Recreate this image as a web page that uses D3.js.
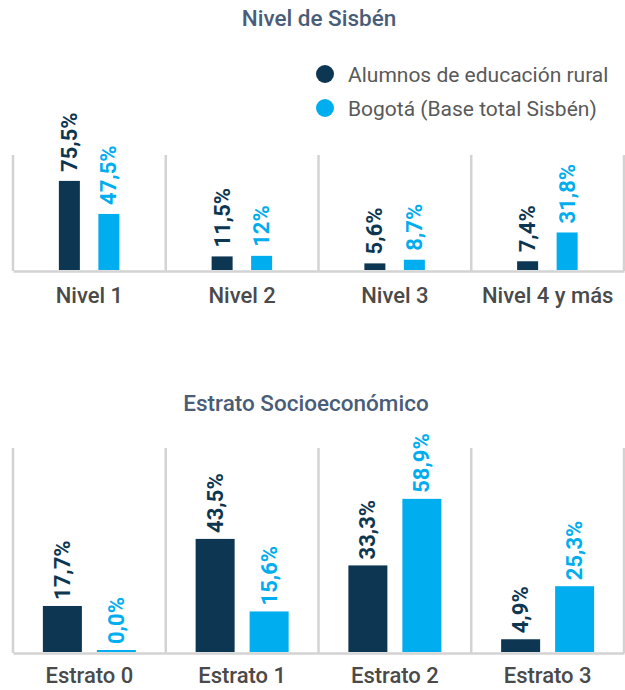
<!DOCTYPE html>
<html>
<head>
<meta charset="utf-8">
<script src="https://cdn.jsdelivr.net/npm/d3@7"></script>
<style>
  body { margin: 0; background: #fff; }
  svg text { font-family: Roboto, "Open Sans", sans-serif; }
</style>
</head>
<body>
<div id="chart"></div>
<script>
// Data
const series = ['Alumnos de educación rural', 'Bogotá (Base total Sisbén)']
const colors = ['#0d3652', '#00adee']

const sisbenCats = ['Nivel 1', 'Nivel 2', 'Nivel 3', 'Nivel 4 y más']
const sisbenRural = [75.5, 11.5, 5.6, 7.4]
const sisbenBogota = [47.5, 12, 8.7, 31.8]
const sisbenLabelsRural = ['75,5%', '11,5%', '5,6%', '7,4%']
const sisbenLabelsBogota = ['47,5%', '12%', '8,7%', '31,8%']

const estratoCats = ['Estrato 0', 'Estrato 1', 'Estrato 2', 'Estrato 3']
const estratoRural = [17.7, 43.5, 33.3, 4.9]
const estratoBogota = [0.0, 15.6, 58.9, 25.3]
const estratoLabelsRural = ['17,7%', '43,5%', '33,3%', '4,9%']
const estratoLabelsBogota = ['0,0%', '15,6%', '58,9%', '25,3%']

const width = 625
const height = 690

const svg = d3.select('#chart')
    .append('svg')
    .attr('width', width)
    .attr('height', height)

function panel(opt) {
    const rows = opt.cats.map((c, i) => ({
        cat: c,
        values: [
            { s: series[0], v: opt.rural[i], label: opt.labelsRural[i] },
            { s: series[1], v: opt.bogota[i], label: opt.labelsBogota[i] }
        ]
    }))

    // Scales
    const x0 = d3.scaleBand()
        .domain(opt.cats)
        .range([13, 624])

    const x1 = d3.scalePoint()
        .domain(series)
        .range(opt.offsets)

    const y = d3.scaleLinear()
        .domain([0, 100])
        .range([opt.base, opt.base - opt.pxPer100])

    const g = svg.append('g')

    // title
    g.append('text')
        .attr('x', opt.titleX)
        .attr('y', opt.titleY)
        .attr('text-anchor', 'middle')
        .attr('fill', '#4a5d78')
        .style('font-size', '22.5px')
        .style('font-weight', 500)
        .text(opt.title)

    // separators
    const edges = opt.cats.map(c => x0(c)).concat([x0.range()[1]])
    g.selectAll('line.sep')
        .data(edges)
        .join('line')
        .attr('class', 'sep')
        .attr('x1', d => d).attr('x2', d => d)
        .attr('y1', opt.sepTop).attr('y2', opt.base + 1)
        .attr('stroke', '#d3d3d3')
        .attr('stroke-width', 2.5)

    // axis
    const xAxis = d3.axisBottom(x0).tickSize(0)
    const axisG = g.append('g')
        .attr('transform', `translate(0, ${opt.base + 1})`)
        .call(xAxis)
    axisG.select('.domain')
        .attr('stroke', '#d3d3d3')
        .attr('stroke-width', 2.5)
    axisG.selectAll('text')
        .attr('y', opt.labelDy)
        .attr('dy', 0)
        .attr('fill', '#4a4a4a')
        .style('font-size', '22px')
        .style('font-weight', 500)

    const groups = g.selectAll('g.cat')
        .data(rows)
        .join('g')
        .attr('class', 'cat')
        .attr('transform', d => `translate(${x0(d.cat) + x0.bandwidth() / 2}, 0)`)

    groups.selectAll('rect')
        .data(d => d.values)
        .join('rect')
        .attr('x', d => x1(d.s) - opt.barW / 2)
        .attr('width', opt.barW)
        .attr('y', d => Math.min(y(d.v), opt.base - 2))
        .attr('height', d => Math.max(opt.base - y(d.v), 2))
        .attr('fill', (d, i) => colors[i])

    groups.selectAll('text.val')
        .data(d => d.values)
        .join('text')
        .attr('class', 'val')
        .attr('transform', d => `translate(${x1(d.s)}, ${Math.min(y(d.v), opt.base - 2) - opt.gap}) rotate(-90)`)
        .attr('dominant-baseline', 'central')
        .attr('fill', (d, i) => colors[i])
        .style('font-size', '22px')
        .style('font-weight', 700)
        .text(d => d.label)
}

panel({
    title: 'Nivel de Sisbén', titleX: 319, titleY: 26,
    cats: sisbenCats, rural: sisbenRural, bogota: sisbenBogota,
    labelsRural: sisbenLabelsRural, labelsBogota: sisbenLabelsBogota,
    base: 270, pxPer100: 118, sepTop: 155, barW: 21, offsets: [-20, 19.5],
    gap: 9, labelDy: 32
})

panel({
    title: 'Estrato Socioeconómico', titleX: 306, titleY: 411,
    cats: estratoCats, rural: estratoRural, bogota: estratoBogota,
    labelsRural: estratoLabelsRural, labelsBogota: estratoLabelsBogota,
    base: 652, pxPer100: 260, sepTop: 448, barW: 39, offsets: [-27, 27],
    gap: 6, labelDy: 30
})

// Legend
const legend = svg.append('g')
    .attr('transform', 'translate(325, 74)')

const items = legend.selectAll('g')
    .data(series)
    .join('g')
    .attr('transform', (d, i) => `translate(0, ${i * 34})`)

items.append('circle')
    .attr('r', 9)
    .attr('fill', (d, i) => colors[i])

items.append('text')
    .attr('x', 23)
    .attr('y', 8)
    .attr('fill', '#595959')
    .style('font-size', '21px')
    .text(d => d)
</script>
</body>
</html>
